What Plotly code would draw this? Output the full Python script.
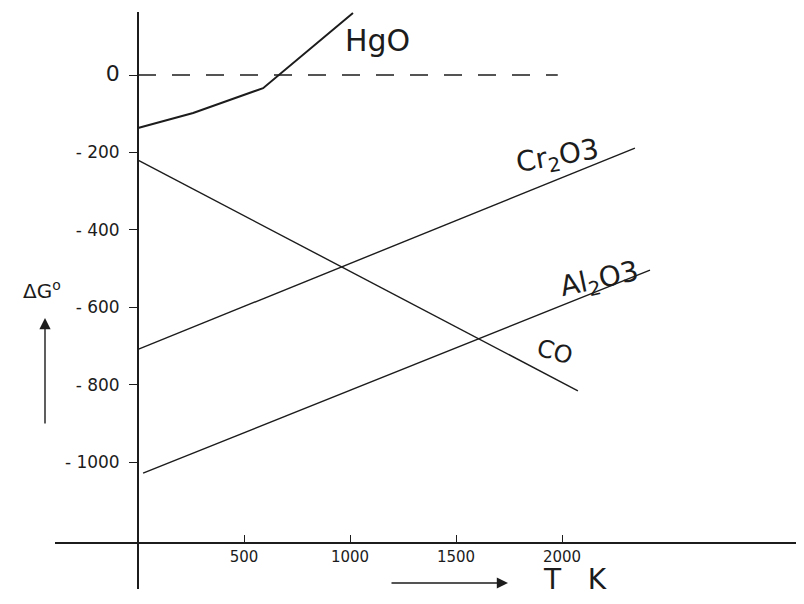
import plotly.graph_objects as go

# ---- data ----
t_hgo = [0, 260, 590, 1014]
dg_hgo = [-137, -98, -34, 160]

t_cr2o3 = [0, 2344]
dg_cr2o3 = [-709, -189]

t_al2o3 = [24, 2415]
dg_al2o3 = [-1029, -504]

t_co = [0, 2075]
dg_co = [-220, -816]

t_zero = [0, 1980]
dg_zero = [0, 0]

x_tickvals = [500, 1000, 1500, 2000]
x_ticktext = ["500", "1000", "1500", "2000"]
y_tickvals = [0, -200, -400, -600, -800, -1000]
y_ticktext = ["<span style='font-size:22px'>0</span>", "- 200", "- 400",
              "- 600", "- 800", "- 1000"]

# page body has an 8px margin; size the figure so it fits the 804x604 window
OFF = 8
W, H = 804 - 2 * OFF, 604 - 2 * OFF
INK = "#1c1c1c"
FONT = "DejaVu Sans"

fig = go.Figure()


def add_line(x, y, width=1.4, dash=None):
    fig.add_trace(go.Scatter(x=x, y=y, mode="lines",
                             line=dict(color=INK, width=width, dash=dash),
                             showlegend=False, hoverinfo="skip"))


add_line(t_zero, dg_zero, width=1.6, dash="18px,16px")
add_line(t_hgo, dg_hgo, width=2.0)
add_line(t_cr2o3, dg_cr2o3)
add_line(t_al2o3, dg_al2o3)
add_line(t_co, dg_co)

# series labels at data positions
labels = [
    ("HgO", 1132, 90, 0, 30),
    ("Cr<sub>2</sub>O3", 1981, -214, -10, 28),
    ("Al<sub>2</sub>O3", 2179, -530, -12, 28),
    ("CO", 1967, -716, 15, 24),
]
for txt, xv, yv, ang, sz in labels:
    fig.add_annotation(x=xv, y=yv, xref="x", yref="y", text=txt, showarrow=False,
                       textangle=ang, xanchor="center", yanchor="middle",
                       font=dict(family=FONT, size=sz, color=INK))


# paper helpers (reference window pixels -> paper fractions)
def px(xr):
    return (xr - OFF) / W


def py(yr):
    return 1 - (yr - OFF) / H


fig.add_annotation(x=px(42), y=py(290), xref="paper", yref="paper",
                   text="ΔG<sup>o</sup>", showarrow=False,
                   xanchor="center", yanchor="middle",
                   font=dict(family=FONT, size=20, color=INK))
fig.add_annotation(x=px(45), y=py(318), xref="paper", yref="paper", text="",
                   showarrow=True, ax=0, ay=107, arrowhead=2, arrowsize=1.6,
                   arrowwidth=1.4, arrowcolor=INK)
fig.add_annotation(x=px(508), y=py(583), xref="paper", yref="paper", text="",
                   showarrow=True, ax=-118, ay=0, arrowhead=2, arrowsize=1.6,
                   arrowwidth=1.4, arrowcolor=INK)
fig.add_annotation(x=px(575), y=py(579), xref="paper", yref="paper",
                   text="T   K", showarrow=False,
                   xanchor="center", yanchor="middle",
                   font=dict(family=FONT, size=28, color=INK))

# axis geometry (reference pixels): T=0 at x=138, 0.212 px per K;
# dG=0 at y=75, 0.387 px per unit
XL, XR = 55, 804 - OFF
YT, YB = 12, 589
x_dom = [px(XL), 1.0]
x_rng = [(XL - 138) / 0.212, (XR - 138) / 0.212]
y_dom = [py(YB), py(YT)]
y_rng = [(75 - YB) / 0.387, (75 - YT) / 0.387]

fig.update_layout(
    width=W, height=H,
    margin=dict(l=0, r=0, t=0, b=0),
    paper_bgcolor="white", plot_bgcolor="white",
    showlegend=False,
    xaxis=dict(domain=x_dom, range=x_rng, anchor="free", position=py(543),
               showgrid=False, zeroline=False, showline=True, linecolor=INK,
               linewidth=1.6, ticks="inside", ticklen=7, tickcolor=INK,
               tickwidth=1.4, tickvals=x_tickvals, ticktext=x_ticktext,
               tickfont=dict(family=FONT, size=15, color=INK)),
    yaxis=dict(domain=y_dom, range=y_rng, anchor="free", position=px(138),
               showgrid=False, zeroline=False, showline=True, linecolor=INK,
               linewidth=1.8, ticks="outside", ticklen=8, tickcolor=INK,
               tickwidth=1.4, tickvals=y_tickvals, ticktext=y_ticktext,
               ticklabelstandoff=6,
               tickfont=dict(family=FONT, size=17, color=INK)),
)

fig.write_html("out.html")
